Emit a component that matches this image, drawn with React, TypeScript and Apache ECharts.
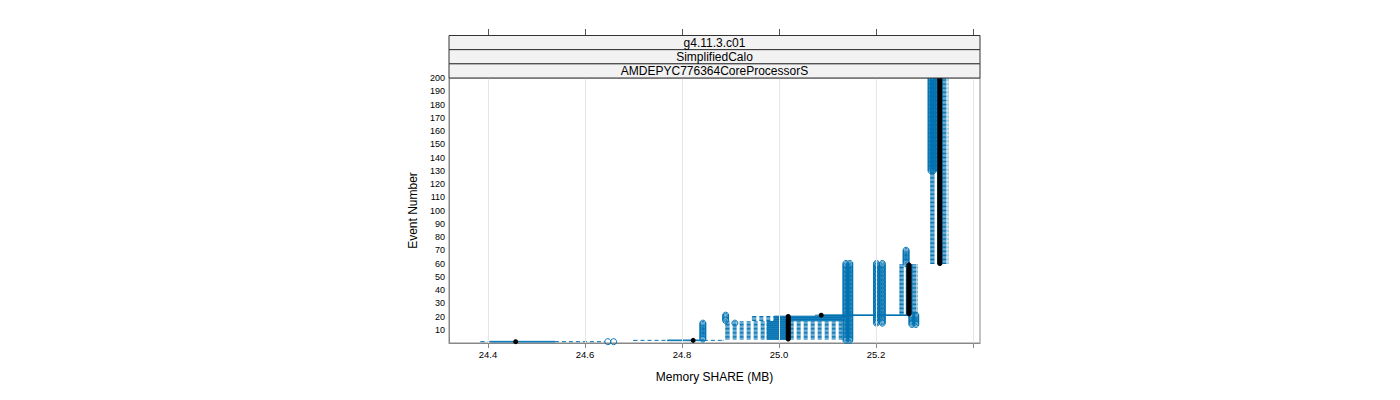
import React, { useEffect, useRef } from 'react';
import * as echarts from 'echarts';

// ---------- data ----------
const xTickValues = [24.4, 24.6, 24.8, 25.0, 25.2, 25.4];
const xLabelValues = [24.4, 24.6, 24.8, 25.0, 25.2];
const stripLabels = ['g4.11.3.c01', 'SimplifiedCalo', 'AMDEPYC776364CoreProcessorS'];

// box-and-whisker statistics, one row per run of events that share them
const boxEventFrom = [1, 2, 3, 17, 21, 22, 60, 130];
const boxEventTo = [1, 2, 16, 20, 21, 59, 129, 200];
const whiskerLow = [24.385, 24.70, 24.89, 24.945, 25.075, 25.249, 25.3125, 25.321];
const quartile1 = [24.405, 24.77, 24.975, 24.99, 25.087, 25.262, 25.327, 25.327];
const medians = [24.457, 24.823, 25.019, 25.019, 25.087, 25.268, 25.3315, 25.3315];
const quartile3 = [24.538, 24.845, 25.022, 25.13, 25.265, 25.275, 25.337, 25.337];
const whiskerHigh = [24.64, 24.885, 25.13, 25.135, 25.27, 25.285, 25.3485, 25.3485];

// outliers: value repeated over a run of events
const outlierEventFrom = [1, 1, 3, 15, 17, 2, 2, 15, 15, 14, 14, 60, 130, 130];
const outlierEventTo = [1, 1, 15, 15, 21, 60, 60, 60, 60, 21, 21, 70, 200, 200];
const outlierValues = [24.647, 24.659, 24.843, 24.909, 24.89, 25.138, 25.146, 25.201, 25.213, 25.274, 25.282, 25.262, 25.3135, 25.318];

const BLUE = '#0072B2';
const FONT = 'Liberation Sans, Arial, sans-serif';

export default function App() {
  const ref = useRef<HTMLDivElement>(null);
  useEffect(() => {
    const chart = echarts.init(ref.current!, null, { renderer: 'svg' });

    const boxRows: number[][] = [];
    boxEventFrom.forEach((from, i) => {
      for (let e = from; e <= boxEventTo[i]; e++) {
        boxRows.push([e, whiskerLow[i], quartile1[i], medians[i], quartile3[i], whiskerHigh[i]]);
      }
    });
    const medianPts = boxRows.map((r) => [r[3], r[0]]);
    const outlierPts: number[][] = [];
    outlierEventFrom.forEach((from, i) => {
      for (let e = from; e <= outlierEventTo[i]; e++) outlierPts.push([outlierValues[i], e]);
    });

    const gridLeft = 449, gridTop = 78, gridW = 531, gridH = 265;
    const stripH = (gridTop - 35.5) / 3;
    const graphics: any[] = [];
    stripLabels.forEach((lab, i) => {
      const y = 35.5 + i * stripH;
      graphics.push({
        type: 'rect',
        shape: { x: gridLeft, y, width: gridW, height: stripH },
        style: { fill: '#f2f2f2', stroke: '#333', lineWidth: 1 },
        z: 10,
      });
      graphics.push({
        type: 'text',
        x: gridLeft + gridW / 2,
        y: y + stripH / 2,
        style: { text: lab, fill: '#000', font: `12px ${FONT}`, align: 'center', verticalAlign: 'middle' },
        z: 11,
      });
    });

    chart.setOption({
      animation: false,
      textStyle: { fontFamily: FONT },
      grid: {
        left: gridLeft, top: gridTop, width: gridW, height: gridH,
        show: true, borderColor: '#888', borderWidth: 1, backgroundColor: 'transparent',
      },
      xAxis: [
        {
          type: 'value', min: 24.3196, max: 25.4144,
          name: 'Memory SHARE (MB)', nameLocation: 'middle', nameGap: 28,
          nameTextStyle: { fontSize: 12, color: '#000' },
          axisLine: { show: true, lineStyle: { color: '#888' } },
          axisTick: { show: true, length: 5, lineStyle: { color: '#888' }, customValues: xTickValues },
          axisLabel: {
            fontSize: 9.5, color: '#000', margin: 6, customValues: xLabelValues,
            formatter: (v: number) => v.toFixed(1),
          },
          splitLine: { show: false },
        },
        {
          type: 'value', min: 24.3196, max: 25.4144, position: 'top', offset: 43,
          axisLine: { show: false },
          axisTick: { show: true, length: 6, lineStyle: { color: '#555' }, customValues: xTickValues },
          axisLabel: { show: false },
          splitLine: { show: false },
        },
      ],
      yAxis: {
        type: 'value', min: 0, max: 200, interval: 10,
        name: 'Event Number', nameLocation: 'middle', nameGap: 30,
        nameTextStyle: { fontSize: 12, color: '#000' },
        axisLine: { show: true, lineStyle: { color: '#888' } },
        axisTick: { show: false },
        axisLabel: { fontSize: 9, color: '#000', margin: 4, formatter: (v: number) => (v === 0 ? '' : String(v)) },
        splitLine: { show: false },
      },
      graphic: graphics,
      series: [
        {
          type: 'scatter', data: [], z: 1, silent: true,
          markLine: {
            silent: true, symbol: ['none', 'none'], label: { show: false },
            lineStyle: { color: '#e6e6e6', type: 'solid', width: 1 },
            data: xTickValues.map((v) => ({ xAxis: v })),
          },
        },
        {
          type: 'custom', z: 2, silent: true,
          data: boxRows,
          encode: { x: [1, 2, 3, 4, 5], y: 0 },
          renderItem: (params: any, api: any) => {
            const e = api.value(0);
            const pLw = api.coord([api.value(1), e]);
            const pQ1 = api.coord([api.value(2), e]);
            const pQ3 = api.coord([api.value(4), e]);
            const pHw = api.coord([api.value(5), e]);
            const h = api.size([0, 0.5])[1];
            const y = pLw[1];
            const dashed = { stroke: BLUE, lineWidth: 1, lineDash: [4, 3] };
            const solid = { stroke: BLUE, lineWidth: 1 };
            return {
              type: 'group',
              children: [
                { type: 'line', shape: { x1: pLw[0], y1: y, x2: pQ1[0], y2: y }, style: dashed },
                { type: 'line', shape: { x1: pQ3[0], y1: y, x2: pHw[0], y2: y }, style: dashed },
                { type: 'line', shape: { x1: pLw[0], y1: y - h / 2, x2: pLw[0], y2: y + h / 2 }, style: solid },
                { type: 'line', shape: { x1: pHw[0], y1: y - h / 2, x2: pHw[0], y2: y + h / 2 }, style: solid },
                {
                  type: 'rect',
                  shape: { x: pQ1[0], y: y - h / 2, width: Math.max(pQ3[0] - pQ1[0], 0.5), height: h },
                  style: { fill: 'none', stroke: BLUE, lineWidth: 1 },
                },
              ],
            };
          },
        },
        {
          type: 'scatter', z: 3, silent: true, data: outlierPts,
          symbol: 'circle', symbolSize: 6,
          itemStyle: { color: 'rgba(0,0,0,0)', borderColor: BLUE, borderWidth: 1, opacity: 1 },
        },
        {
          type: 'scatter', z: 4, silent: true, data: medianPts,
          symbol: 'circle', symbolSize: 5,
          itemStyle: { color: '#000', opacity: 1 },
        },
      ],
    });
    return () => chart.dispose();
  }, []);
  return <div ref={ref} style={{ position: 'absolute', left: 0, top: 0, width: 1400, height: 400 }} />;
}
